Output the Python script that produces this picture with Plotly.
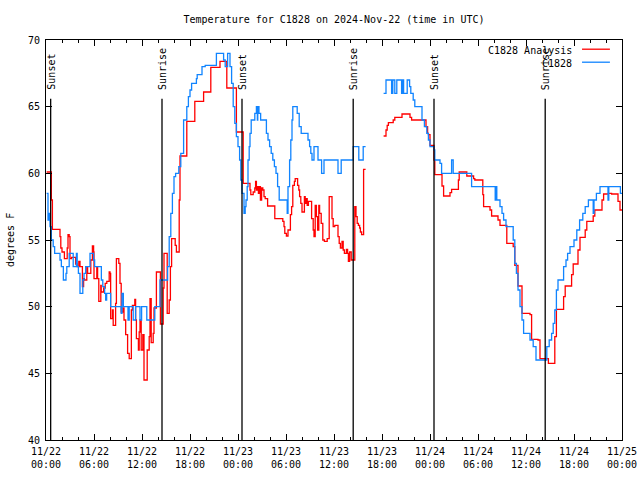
import pandas as pd
import plotly.graph_objects as go

# ---------------- data ----------------
start = "2024-11-22 00:00"

obs_hours = [0.08, 0.25, 0.4, 0.5, 0.67, 0.9, 1.08, 1.75, 1.92, 2.17, 2.5, 2.6, 2.9, 3.4, 3.8, 3.9,
             4.05, 4.25, 4.6, 4.75, 4.96, 5.5, 5.95, 6.08, 6.92, 7.1, 7.33, 7.46, 7.58, 8.08, 9.4, 9.5,
             9.67, 10.25, 10.4, 10.9, 11.2, 11.75, 11.95, 12.6, 13.6, 14.25, 15.2, 15.4, 15.6, 15.8,
             16.0, 16.2, 16.6, 16.85, 17.2, 17.6, 17.8, 18.0, 18.2, 18.8, 18.9, 19.5, 19.9, 21.3,
             22.2, 22.4, 22.7, 23.0, 23.2, 23.4, 23.6, 23.8, 24.0, 24.2, 24.35, 24.5, 24.75, 24.9,
             25.0, 25.15, 25.25, 25.4, 25.5, 25.65, 26.1, 26.3, 26.42, 26.47, 26.62, 26.83, 27.55,
             27.75, 27.95, 28.15, 28.35, 28.55, 28.75, 28.95, 29.15, 30.15, 30.25, 30.45, 30.6,
             30.75, 30.85, 31.4, 31.65, 31.9, 32.75, 32.95, 33.1, 33.25, 33.5, 34.0, 34.45, 34.75,
             36.5, 36.9, 38.4, 39.1, 39.65, 39.95, 39.97,
             42.2, 42.5, 43.2, 43.35, 43.6, 43.85, 44.45, 44.55, 44.7, 45.15, 45.45, 45.6, 45.9,
             46.1, 47.0, 47.3, 47.6, 47.8, 48.0, 48.5, 48.6, 49.25, 49.45, 50.7, 50.9, 53.2, 56.15,
             56.25, 56.35, 56.75, 57.0, 57.2, 57.5, 58.4, 58.6, 58.8, 59.0, 59.25, 59.5, 59.7, 60.5,
             60.9, 61.25, 62.6, 62.9, 63.2, 63.4, 63.6, 63.8, 64.0, 64.7, 65.0, 65.2, 65.5, 66.0,
             66.35, 66.7, 67.1, 67.4, 67.8, 68.4, 68.5, 68.8, 69.25, 70.25, 70.35, 71.8, 72.0]
obs_temp = [58.5, 56.5, 57, 56, 55, 54.5, 54, 53.5, 53, 52, 52.5, 53, 54, 53, 54, 53,
            52.5, 51, 52, 52.5, 53, 54, 53.5, 53, 52, 51.5, 51, 50.5, 51, 50, 49.5, 51,
            50, 49, 50, 49, 50, 49, 50, 49, 50, 52, 53, 55.25, 57, 58.5,
            59.75, 60, 60.5, 61.5, 64, 65, 65.75, 66.25, 66.75, 67.1, 67.4, 68, 68.1, 69,
            68.5, 68, 69, 68, 66.75, 65, 63.75, 62.75, 62, 61, 59.5, 58.5, 57, 57.5,
            58, 59, 61, 62, 63, 64, 64.5, 65, 64, 65, 64.5, 64, 63,
            62.5, 62, 61.5, 61, 60.5, 60, 59, 58, 57, 59, 61, 62.5,
            64, 65, 64.5, 63.5, 63, 62.5, 62, 61.5, 61, 62, 61, 60, 61,
            60, 61, 62, 61, 62, 62, None,
            66, 67, 66, 67, 66, 67, 66, 67, 66, 67, 66.5, 66, 65.5,
            65, 64, 63.5, 63, 62.5, 62, 61.75, 61, 60.75, 60, 61, 60, 59, 58,
            59, 58, 57.5, 57, 56.5, 56, 55, 53.25, 52.5, 51.25, 50, 49, 48, 47.5,
            47, 46, 47, 47.5, 48, 48.75, 49.75, 51.25, 52, 53, 53.5, 54, 54.5, 55,
            55.75, 56.5, 57, 57.5, 58, 57, 58, 58.5, 59, 58, 59, 58.5, 58.5]

ana_hours = [0.08, 0.67, 0.8, 1.75, 1.85, 2.0, 2.3, 2.65, 2.75, 2.9, 3.0, 3.2, 3.7, 3.9, 4.1, 4.25,
             4.55, 4.7, 4.8, 5.1, 5.2, 5.6, 5.8, 5.95, 6.0, 6.35, 6.45, 6.6, 6.85, 6.9, 7.2, 7.4,
             7.6, 7.9, 8.0, 8.08, 8.3, 8.4, 8.7, 8.8, 9.1, 9.25, 9.4, 9.6, 9.75, 9.96, 10.2, 10.4,
             10.67, 10.8, 11.1, 11.2, 11.3, 11.55, 11.65, 11.75, 11.9, 12.1, 12.25, 12.65, 12.9,
             13.0, 13.15, 13.4, 13.5, 13.8, 14.3, 14.65, 14.75, 15.15, 15.4, 15.55, 15.7, 16.15,
             16.3, 16.65, 16.75, 17.6, 18.6, 19.7, 20.6, 21.75, 22.6, 23.8, 24.65, 25.5, 25.6,
             25.9, 26.1, 26.2, 26.3, 26.4, 26.55, 26.7, 26.8, 26.95, 27.1, 27.25, 27.4, 27.7,
             28.6, 29.6, 29.75, 29.85, 30.05, 30.25, 30.55, 30.7, 30.85, 31.05, 31.15, 31.45,
             31.6, 31.7, 31.85, 32.0, 32.3, 32.4, 32.5, 32.65, 32.8, 33.2, 33.4, 33.5, 33.65,
             33.8, 33.95, 34.1, 34.2, 34.4, 34.6, 34.8, 35.15, 35.4, 35.75, 35.9, 36.1, 36.5,
             36.65, 36.8, 37.0, 37.15, 37.3, 37.55, 37.7, 37.8, 37.95, 38.15, 38.6, 38.75, 38.9,
             39.05, 39.2, 39.3, 39.45, 39.7, 39.95, 39.97,
             42.2, 42.5, 42.65, 42.8, 43.4, 43.6, 44.5, 45.5, 45.7, 47.5, 47.7, 47.8, 48.0, 48.5,
             48.6, 49.5, 49.7, 50.5, 50.7, 51.55, 51.65, 52.6, 53.45, 53.6, 54.6, 54.7, 55.5,
             55.7, 56.5, 56.75, 57.6, 58.4, 58.6, 59.0, 59.5, 60.5, 60.7, 61.5, 61.75, 62.8, 63.6,
             63.8, 64.7, 64.9, 65.7, 65.9, 66.5, 66.75, 67.4, 67.6, 68.4, 68.6, 69.5, 69.7, 70.3,
             70.7, 71.5, 71.75, 72.0]
ana_temp = [60.1, 58, 55.8, 55.25, 54.4, 54.1, 53.6, 54.4, 55.4, 55.25, 53.6, 53.7, 53.2, 53, 53.4, 53,
            51.5, 52.1, 52, 53, 52.5, 53.5, 54.55, 54.1, 52.1, 53, 52.1, 50.4, 51.6, 51.1, 51.4, 51.75,
            51.9, 52.6, 52.5, 49.1, 49.75, 48.6, 50.25, 53.6, 53.25, 51.75, 49.6, 49.9, 49, 47.9, 46.5, 46.1,
            49.75, 50.1, 50.55, 49.0, 47.6, 46.75, 48.1, 49, 46.75, 47.9, 44.5, 46.75, 47.75,
            50.6, 47.3, 48, 49.9, 52.6, 48.7, 51.4, 54, 49.5, 50.5, 53, 55.1, 54.6,
            54.1, 58, 61.3, 63.9, 65.4, 66.1, 67.95, 68.4, 66.4, 63.1, 59.25, 58.75, 58.4,
            58.6, 58.9, 59.4, 58.75, 59, 58.5, 59, 58, 58.9, 58.75, 58.25, 58.1, 57.55,
            56.6, 56.4, 56, 55.5, 55.3, 55.75, 56.9, 57.5, 59.1, 59.4, 59.6, 59.1,
            58.75, 58.25, 57.75, 57.1, 58.25, 57.75, 58.1, 57.6, 57.9, 56.6, 55.75, 55.25, 57.6,
            56.75, 55.75, 57.6, 57, 56.25, 55, 54.9, 55.1, 58.25, 56.6, 56, 56.1, 55.25,
            54.75, 54.4, 54.9, 54.25, 54, 54.3, 54, 53.4, 54.1, 53.5, 57.5, 56.75, 56.25,
            56.1, 55.9, 55.6, 55.4, 60.3, 60.3, None,
            62.8, 63.25, 63.6, 63.8, 64, 64.2, 64.45, 64.2, 64, 63.5, 63, 62.9, 62.1, 61,
            59.9, 59.05, 58.3, 58.55, 58.8, 59.5, 60.1, 59.8, 59.6, 59.5, 58.4, 57.5, 57.25,
            56.8, 56.5, 56.1, 54.75, 54.5, 53.1, 51.55, 49.5, 49.4, 47.55, 47.5, 46.1, 45.75, 47.75,
            49.8, 50.75, 51.55, 52.4, 53.2, 54.25, 55.2, 55.75, 56.4, 56.8, 57.25, 58, 58.45, 58.5,
            58.45, 57.9, 57.25, 57.25]

event_times = ["2024-11-22 00:35", "2024-11-22 14:30", "2024-11-23 00:30",
               "2024-11-23 14:24", "2024-11-24 00:30", "2024-11-24 14:24"]
event_labels = ["Sunset", "Sunrise", "Sunset", "Sunrise", "Sunset", "Sunrise"]

tick_times = ["2024-11-22 00:00", "2024-11-22 06:00", "2024-11-22 12:00", "2024-11-22 18:00",
              "2024-11-23 00:00", "2024-11-23 06:00", "2024-11-23 12:00", "2024-11-23 18:00",
              "2024-11-24 00:00", "2024-11-24 06:00", "2024-11-24 12:00", "2024-11-24 18:00",
              "2024-11-25 00:00"]
tick_labels = ["11/22<br>00:00", "11/22<br>06:00", "11/22<br>12:00", "11/22<br>18:00",
               "11/23<br>00:00", "11/23<br>06:00", "11/23<br>12:00", "11/23<br>18:00",
               "11/24<br>00:00", "11/24<br>06:00", "11/24<br>12:00", "11/24<br>18:00",
               "11/25<br>00:00"]

series_names = ["C1828 Analysis", "C1828"]
series_colors = ["#ff0000", "#1084ff"]

# ---------------- figure ----------------
FONT = "DejaVu Sans Mono"
t0 = pd.Timestamp(start)
obs_x = [t0 + pd.Timedelta(hours=h) for h in obs_hours]
ana_x = [t0 + pd.Timedelta(hours=h) for h in ana_hours]

fig = go.Figure()
fig.add_trace(go.Scatter(x=ana_x, y=ana_temp, mode="lines", name=series_names[0],
                         line=dict(color=series_colors[0], width=1.3, shape="hv"),
                         connectgaps=False))
fig.add_trace(go.Scatter(x=obs_x, y=obs_temp, mode="lines", name=series_names[1],
                         line=dict(color=series_colors[1], width=1.3, shape="hv"),
                         connectgaps=False))

for t, lab in zip(event_times, event_labels):
    fig.add_shape(type="line", xref="x", yref="y", x0=t, x1=t, y0=40, y1=65.6,
                  line=dict(color="black", width=1.3))
    fig.add_annotation(x=t, y=66.1, xref="x", yref="y", text=lab, textangle=-90,
                       showarrow=False, xanchor="center", yanchor="bottom",
                       font=dict(family=FONT, size=10, color="black"))

# custom legend (text left of line sample, gnuplot style)
for i, (nm, col) in enumerate(zip(series_names, series_colors)):
    yp = 0.975 - i * 0.0325
    fig.add_annotation(x=0.9167, y=yp, xref="paper", yref="paper", text=nm,
                       showarrow=False, xanchor="right", yanchor="middle",
                       font=dict(family=FONT, size=10, color="black"))
    fig.add_shape(type="line", xref="paper", yref="paper", x0=0.9306, x1=0.979,
                  y0=yp + 0.002, y1=yp + 0.002, line=dict(color=col, width=1.3))

fig.add_annotation(x=-0.0625, y=0.5, xref="paper", yref="paper", text="degrees F",
                   textangle=-90, showarrow=False, xanchor="center", yanchor="middle",
                   font=dict(family=FONT, size=10, color="black"))

fig.update_layout(
    width=640, height=480,
    margin=dict(l=46, r=18, t=40, b=40, autoexpand=False),
    paper_bgcolor="white", plot_bgcolor="white",
    showlegend=False,
    font=dict(family=FONT, size=10, color="black"),
    title=dict(text="Temperature for C1828 on 2024-Nov-22 (time in UTC)",
               x=0.5, xref="paper", xanchor="center", y=1 - 19 / 480, yanchor="middle",
               font=dict(family=FONT, size=10, color="black")),
)
fig.update_xaxes(
    type="date", range=["2024-11-22 00:00", "2024-11-25 00:00"], automargin=False,
    tickmode="array", tickvals=tick_times, ticktext=tick_labels,
    ticks="inside", ticklen=6, tickcolor="black", tickwidth=1,
    showline=True, linecolor="black", linewidth=1, mirror="allticks",
    showgrid=False, zeroline=False, ticklabelstandoff=2,
    minor=dict(ticks="inside", ticklen=3, tickcolor="black", dtick=2 * 3600 * 1000,
               tick0="2024-11-22 00:00", showgrid=False),
    tickfont=dict(family=FONT, size=10, color="black"),
)
fig.update_yaxes(
    range=[40, 70], tickmode="linear", tick0=40, dtick=5, automargin=False,
    ticks="inside", ticklen=6, tickcolor="black", tickwidth=1,
    showline=True, linecolor="black", linewidth=1, mirror="allticks",
    showgrid=False, zeroline=False, ticklabelstandoff=3,
    tickfont=dict(family=FONT, size=10, color="black"),
)

# remove the default 8px page margin so the 640x480 figure fills the window exactly
fig.write_html("out.html",
               config={"displayModeBar": False, "staticPlot": True},
               post_script="document.body.style.margin='0px';document.body.style.overflow='hidden';")
